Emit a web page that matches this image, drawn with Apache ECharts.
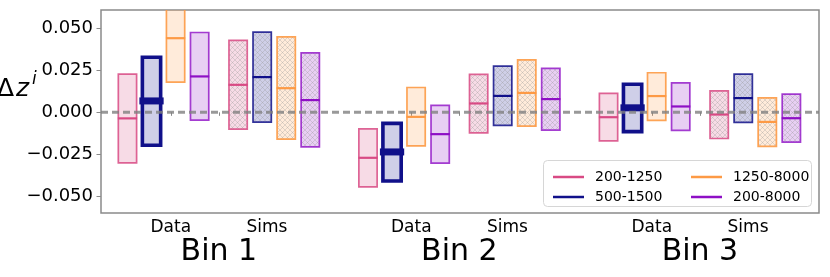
<!DOCTYPE html>
<html>
<head>
<meta charset="utf-8">
<script src="https://cdn.jsdelivr.net/npm/echarts@6/dist/echarts.min.js"></script>
<style>
html,body{margin:0;padding:0;background:#fff;}
#chart{width:830px;height:277px;}
</style>
</head>
<body>
<div id="chart"></div>
<script>
// ---------- data ----------
const BINS = ['Bin 1', 'Bin 2', 'Bin 3'];
const GROUPS = ['Data', 'Sims'];
const RANGES = ['200-1250', '500-1500', '1250-8000', '200-8000'];
const Y_TICKS = [-0.05, -0.025, 0, 0.025, 0.05];

// order of slots: Bin1 Data, Bin1 Sims, Bin2 Data, Bin2 Sims, Bin3 Data, Bin3 Sims
const MED_200_1250 = [-0.0036, 0.0164, -0.0271, 0.0053, -0.0029, -0.0013];
const LOW_200_1250 = [-0.0301, -0.0100, -0.0444, -0.0122, -0.0170, -0.0156];
const HIGH_200_1250 = [0.0228, 0.0429, -0.0098, 0.0226, 0.0113, 0.0128];

const MED_500_1500 = [0.0068, 0.0210, -0.0236, 0.0098, 0.0027, 0.0085];
const LOW_500_1500 = [-0.0196, -0.0058, -0.0409, -0.0078, -0.0115, -0.0060];
const HIGH_500_1500 = [0.0328, 0.0478, -0.0066, 0.0275, 0.0167, 0.0228];

const MED_1250_8000 = [0.0442, 0.0144, -0.0027, 0.0116, 0.0097, -0.0057];
const LOW_1250_8000 = [0.0180, -0.0160, -0.0200, -0.0082, -0.0048, -0.0203];
const HIGH_1250_8000 = [0.0700, 0.0450, 0.0148, 0.0313, 0.0236, 0.0086];

const MED_200_8000 = [0.0214, 0.0073, -0.0130, 0.0079, 0.0035, -0.0035];
const LOW_200_8000 = [-0.0047, -0.0206, -0.0303, -0.0106, -0.0108, -0.0178];
const HIGH_200_8000 = [0.0476, 0.0355, 0.0041, 0.0262, 0.0176, 0.0109];

const MEDS = [MED_200_1250, MED_500_1500, MED_1250_8000, MED_200_8000];
const LOWS = [LOW_200_1250, LOW_500_1500, LOW_1250_8000, LOW_200_8000];
const HIGHS = [HIGH_200_1250, HIGH_500_1500, HIGH_1250_8000, HIGH_200_8000];

// ---------- layout / style ----------
const X_MIN = 0, X_MAX = 29.85;
const Y_MIN = -0.06, Y_MAX = 0.061;
const DATA_TICK0 = 2.9, BIN_STEP = 10, SIMS_SHIFT = 4, MID_SHIFT = 2;
const OFFS = [[-1.8, -0.8, 0.2, 1.2], [-1.2, -0.2, 0.8, 1.8]];
const BOX_W = 0.76;
const EDGE = ['rgba(216,74,132,0.85)', 'rgba(16,16,138,0.85)', 'rgba(253,154,69,0.9)', 'rgba(142,15,197,0.8)'];
const SOLID = ['#d84a84', '#10108a', '#fd9a45', '#8e0fc5'];
const FILL = ['rgba(216,74,132,0.2)', 'rgba(16,16,138,0.2)', 'rgba(253,154,69,0.2)', 'rgba(142,15,197,0.2)'];
const FILL_RGB = ['#f7dbe6', '#cfcfe8', '#ffebda', '#e8cff3'];

function hatch(base) {
  const n = 5;
  const c = document.createElement('canvas');
  c.width = n; c.height = n;
  const ctx = c.getContext('2d');
  ctx.fillStyle = base; ctx.fillRect(0, 0, n, n);
  ctx.strokeStyle = 'rgba(150,150,150,0.3)';
  ctx.lineWidth = 1;
  ctx.beginPath();
  ctx.moveTo(0, 0); ctx.lineTo(n, n);
  ctx.moveTo(n, 0); ctx.lineTo(0, n);
  ctx.stroke();
  return { image: c, repeat: 'repeat' };
}
const HATCH = FILL_RGB.map(hatch);

const dataTicks = BINS.map((b, i) => DATA_TICK0 + i * BIN_STEP);
const simsTicks = dataTicks.map(v => v + SIMS_SHIFT);
const midTicks = dataTicks.map(v => v + MID_SHIFT);
const allTicks = dataTicks.concat(midTicks, simsTicks).sort((a, b) => a - b);
const groupLabelVals = dataTicks.concat(simsTicks).sort((a, b) => a - b);

function nearestIndex(arr, v) {
  let best = 0;
  arr.forEach((a, i) => { if (Math.abs(a - v) < Math.abs(arr[best] - v)) best = i; });
  return best;
}
function isSims(v) {
  return Math.abs(simsTicks[nearestIndex(simsTicks, v)] - v) < 0.01;
}

function buildSeries(r) {
  const data = [];
  BINS.forEach((b, bi) => {
    GROUPS.forEach((g, gi) => {
      const slot = bi * 2 + gi;
      const x = DATA_TICK0 + bi * BIN_STEP + gi * SIMS_SHIFT + OFFS[gi][r];
      data.push([x, LOWS[r][slot], HIGHS[r][slot], MEDS[r][slot], gi]);
    });
  });
  return {
    name: RANGES[r],
    type: 'custom',
    clip: true,
    z: 2,
    itemStyle: { color: SOLID[r] },
    data: data,
    renderItem: function (params, api) {
      const x = api.value(0), lo = api.value(1), hi = api.value(2), md = api.value(3), gi = api.value(4);
      const p0 = api.coord([x - BOX_W / 2, lo]);
      const p1 = api.coord([x + BOX_W / 2, hi]);
      const pm = api.coord([x, md]);
      const thick = (r === 1 && gi === 0);
      const lw = thick ? 3.6 : 1.7;
      const children = [{
        type: 'rect',
        shape: { x: p0[0], y: p1[1], width: p1[0] - p0[0], height: p0[1] - p1[1] },
        style: { fill: gi === 1 ? HATCH[r] : FILL[r], stroke: thick ? SOLID[r] : EDGE[r], lineWidth: lw }
      }];
      if (thick) {
        children.push({
          type: 'rect',
          shape: { x: p0[0] - 3, y: pm[1] - 3.5, width: (p1[0] - p0[0]) + 6, height: 7 },
          style: { fill: SOLID[r] }
        });
      } else {
        children.push({
          type: 'line',
          shape: { x1: p0[0] - 0.5, y1: pm[1], x2: p1[0] + 0.5, y2: pm[1] },
          style: { stroke: SOLID[r], lineWidth: 2.2 }
        });
      }
      return { type: 'group', children: children };
    }
  };
}

const series = RANGES.map((n, r) => buildSeries(r));
series.push({
  type: 'line',
  z: 5,
  silent: true,
  showSymbol: false,
  symbol: 'none',
  data: [[X_MIN, 0], [X_MAX, 0]],
  lineStyle: { color: 'rgba(128,128,128,0.8)', width: 3, type: [7, 4] }
});

const FONT = 'DejaVu Sans';
const chart = echarts.init(document.getElementById('chart'), null, { renderer: 'canvas' });

const legendCommon = {
  orient: 'vertical',
  icon: 'rect',
  itemWidth: 31,
  itemHeight: 2.5,
  itemGap: 6,
  z: 10,
  textStyle: { fontFamily: FONT, fontSize: 14, color: '#000', lineHeight: 14, padding: [0, 0, 0, 6] },
  selectedMode: false
};

chart.setOption({
  animation: false,
  backgroundColor: '#fff',
  grid: { left: 101, right: 11, top: 10, bottom: 64, show: true, borderColor: '#8a8a8a', borderWidth: 1.5, backgroundColor: 'transparent' },
  xAxis: [{
    type: 'value', min: X_MIN, max: X_MAX, position: 'bottom',
    axisLine: { show: false },
    splitLine: { show: false },
    axisTick: { show: true, customValues: allTicks, length: 3.5, lineStyle: { color: '#8a8a8a', width: 1 } },
    axisLabel: {
      customValues: groupLabelVals, margin: 6,
      fontFamily: FONT, fontSize: 17, color: '#000',
      formatter: function (v) { return GROUPS[isSims(v) ? 1 : 0]; }
    }
  }, {
    type: 'value', min: X_MIN, max: X_MAX, position: 'bottom',
    axisLine: { show: false }, splitLine: { show: false }, axisTick: { show: false },
    axisLabel: {
      customValues: midTicks, margin: 24,
      fontFamily: FONT, fontSize: 30, color: '#000',
      formatter: function (v) { return BINS[nearestIndex(midTicks, v)]; }
    }
  }],
  yAxis: {
    type: 'value', min: Y_MIN, max: Y_MAX,
    axisLine: { show: false },
    splitLine: { show: false },
    axisTick: { show: true, customValues: Y_TICKS, length: 4.5, lineStyle: { color: '#8a8a8a', width: 1 } },
    axisLabel: {
      customValues: Y_TICKS, margin: 8,
      fontFamily: FONT, fontSize: 18, color: '#000',
      formatter: function (v) { return v.toFixed(3).replace('-', '\u2212'); }
    }
  },
  legend: [
    Object.assign({ left: 548, top: 165, data: [RANGES[0], RANGES[1]] }, legendCommon),
    Object.assign({ left: 686, top: 165, data: [RANGES[2], RANGES[3]] }, legendCommon)
  ],
  graphic: [
    { type: 'rect', z: 8, shape: { x: 543.5, y: 160.5, width: 268, height: 46, r: 4 },
      style: { fill: 'rgba(255,255,255,0.85)', stroke: '#d6d6d6', lineWidth: 1 } },
    { type: 'text', z: 8, x: -3, y: 77, style: { text: '\u0394', fontFamily: FONT, fontSize: 25, fill: '#000' } },
    { type: 'text', z: 8, x: 16, y: 77, style: { text: 'z', fontFamily: FONT, fontStyle: 'italic', fontSize: 25, fill: '#000' } },
    { type: 'text', z: 8, x: 32, y: 71, style: { text: 'i', fontFamily: FONT, fontStyle: 'italic', fontSize: 17, fill: '#000' } }
  ],
  series: series
});
</script>
</body>
</html>
